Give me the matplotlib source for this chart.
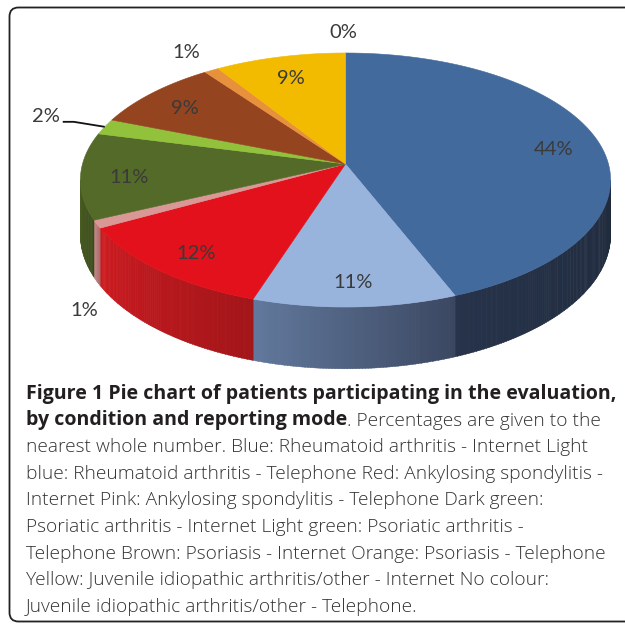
import numpy as np
import matplotlib
matplotlib.use("Agg")
import matplotlib.pyplot as plt
from matplotlib.patches import Polygon, FancyBboxPatch
from matplotlib.colors import to_rgb

# data (percent of patients)
categories = [
    "Rheumatoid arthritis - Internet",
    "Rheumatoid arthritis - Telephone",
    "Ankylosing spondylitis - Internet",
    "Ankylosing spondylitis - Telephone",
    "Psoriatic arthritis - Internet",
    "Psoriatic arthritis - Telephone",
    "Psoriasis - Internet",
    "Psoriasis - Telephone",
    "Juvenile idiopathic arthritis/other - Internet",
    "Juvenile idiopathic arthritis/other - Telephone",
]
percent = [44, 11, 12, 1, 11, 2, 9, 1, 9, 0]

top_colors = ["#436a9d", "#98b4dd", "#e2111b", "#d99795", "#546a28",
              "#92c13c", "#94441f", "#e8913d", "#f2bb00", "#ffffff"]
# side wall colours: (right end, left end) for a soft gradient
side_colors = [("#1f2a3c", "#27334a"), ("#3b4761", "#62799d"),
               ("#a3161a", "#cc1b20"), ("#a86a6a", "#c88888"),
               ("#3b4c1b", "#4a5e22"), ("#6f9a2a", "#80aa33"),
               ("#6e3015", "#7e3a1a"), ("#b86a28", "#c8772e"),
               ("#c09400", "#d2a300"), ("#dddddd", "#eeeeee")]

caption_lines = [
    "nearest whole number. Blue: Rheumatoid arthritis - Internet Light",
    "blue: Rheumatoid arthritis - Telephone Red: Ankylosing spondylitis -",
    "Internet Pink: Ankylosing spondylitis - Telephone Dark green:",
    "Psoriatic arthritis - Internet Light green: Psoriatic arthritis -",
    "Telephone Brown: Psoriasis - Internet Orange: Psoriasis - Telephone",
    "Yellow: Juvenile idiopathic arthritis/other - Internet No colour:",
    "Juvenile idiopathic arthritis/other - Telephone.",
]

# projection of the tilted disc (pixel units, y downwards)
CX, CY = 345.5, 164.0
A, B, K, D = 263.0, 125.0, 0.126, 54.0


def project(r, theta, drop=0.0):
    u = r * np.sin(theta)
    v = -r * np.cos(theta)
    den = 1 - K * v
    return CX + A * u / den, CY + (B * v + drop) / den


fig = plt.figure(figsize=(6.25, 6.25), dpi=100)
ax = fig.add_axes([0, 0, 1, 1])
ax.set_xlim(0, 625)
ax.set_ylim(625, 0)
ax.axis("off")

frame = FancyBboxPatch((9.5, 7.5), 700, 614, boxstyle="round,pad=0,rounding_size=9",
                       fc="none", ec="#222222", lw=1.3, zorder=1)
ax.add_patch(frame)

fracs = np.array(percent) / sum(percent)
edges = np.concatenate([[0], np.cumsum(fracs)]) * 2 * np.pi
sil_lo = np.arccos(-K)
sil_hi = 2 * np.pi - sil_lo

# side walls (front half only)
for i in range(len(percent)):
    t0, t1 = max(edges[i], sil_lo), min(edges[i + 1], sil_hi)
    if t1 <= t0:
        continue
    n = max(int((t1 - t0) / 0.01), 2)
    ts = np.linspace(t0, t1, n + 1)
    c0, c1 = np.array(to_rgb(side_colors[i][0])), np.array(to_rgb(side_colors[i][1]))
    for j in range(n):
        a, b = ts[j], ts[j + 1] + 0.002
        xt, yt = project(1, np.array([a, b]))
        xb, yb = project(1, np.array([b, a]), D)
        col = c0 + (c1 - c0) * (j + 0.5) / n
        ax.add_patch(Polygon(np.column_stack([np.r_[xt, xb], np.r_[yt, yb]]),
                             closed=True, fc=col, ec=col, lw=0.3, zorder=2))

# top faces
for i in range(len(percent)):
    if percent[i] == 0:
        continue
    ts = np.linspace(edges[i], edges[i + 1], 80)
    xs, ys = project(1, ts)
    pts = np.column_stack([np.r_[CX, xs], np.r_[CY, ys]])
    ax.add_patch(Polygon(pts, closed=True, fc=top_colors[i], ec=top_colors[i],
                         lw=0.4, zorder=3))

# percentage labels
label_kw = dict(fontsize=14.5, color="#3a3a3a", family="Lato", zorder=5,
                ha="center", va="center")
outside = {3: ("bottom", (-13, 29)), 5: ("leader", (-45, -10)),
           7: ("top", (-25, -18)), 9: ("top", (-2, -20))}
for i, p in enumerate(percent):
    mid = (edges[i] + edges[i + 1]) / 2
    txt = f"{p}%"
    if i not in outside:
        x, y = project(0.82, mid)
        ax.text(x, y + 4, txt, **label_kw)
        continue
    kind, (dx, dy) = outside[i]
    x, y = project(1, mid, D if kind == "bottom" else 0.0)
    if kind == "leader":
        ax.plot([x, x - 31, x - 42], [y, y - 5, y - 5], color="#111111", lw=1.3,
                zorder=5, solid_capstyle="butt")
        ax.text(x + dx, y + dy, txt, **{**label_kw, "ha": "right"})
    else:
        ax.text(x + dx, y + dy, txt, **label_kw)

# caption
x0, base0, step = 26, 398.5, 26.7
cap_kw = dict(family="Open Sans", va="baseline", ha="left", zorder=5)
t1 = ax.text(x0, base0, "Figure 1 Pie chart of patients participating in the evaluation,",
             fontweight="bold", fontsize=12, color="#231f20", **cap_kw)
t2 = ax.text(x0, base0 + step, "by condition and reporting mode",
             fontweight="bold", fontsize=12, color="#231f20", **cap_kw)
t2b = ax.annotate(". Percentages are given to the", xy=(1, 0), xycoords=t2,
                  va="bottom", ha="left", fontsize=12, family="Open Sans",
                  fontweight="light", color="#333333", zorder=5)
others = []
for k, line in enumerate(caption_lines):
    others.append(ax.text(x0, base0 + step * (k + 2), line, fontsize=12,
                          fontweight="light", color="#333333", **cap_kw))

# scale caption font so the first line spans the same width as in the original
fig.canvas.draw()
r = fig.canvas.get_renderer()
w = t1.get_window_extent(r).width
scale = (616 - x0) / w
t1.set_fontsize(12 * scale)
t2.set_fontsize(12 * scale)
for t in [t2b] + others:
    t.set_fontsize(12 * scale * 0.975)

fig.savefig("out.png", dpi=100)
